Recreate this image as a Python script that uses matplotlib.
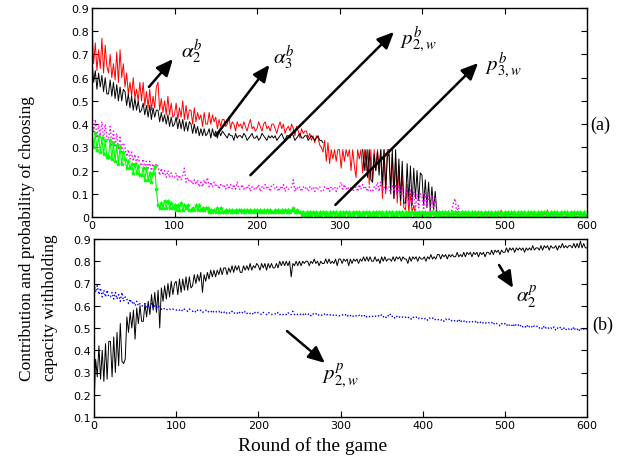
import numpy as np
import matplotlib
matplotlib.use("Agg")
import matplotlib.pyplot as plt

plt.rcParams['mathtext.fontset'] = 'stix'
nan = np.nan

rounds = list(range(0, 601, 2))

alpha2_b = [0.83,0.66,0.75,0.63,0.72,0.64,0.77,0.62,0.74,0.65,
            0.62,0.70,0.60,0.66,0.59,0.71,0.58,0.72,0.60,0.66,
            0.56,0.62,0.53,0.58,0.52,0.60,0.51,0.55,0.50,0.58,
            0.50,0.58,0.48,0.54,0.47,0.55,0.46,0.52,0.47,0.56,
            0.58,0.46,0.51,0.45,0.50,0.44,0.52,0.44,0.49,0.43,
            0.44,0.49,0.42,0.47,0.43,0.50,0.42,0.48,0.42,0.46,
            0.46,0.40,0.47,0.41,0.45,0.42,0.44,0.39,0.45,0.40,
            0.40,0.45,0.40,0.44,0.41,0.43,0.38,0.42,0.39,0.42,
            0.42,0.39,0.40,0.43,0.38,0.41,0.40,0.37,0.41,0.39,
            0.40,0.38,0.41,0.39,0.37,0.40,0.42,0.38,0.39,0.37,
            0.38,0.41,0.39,0.37,0.40,0.41,0.38,0.39,0.37,0.40,
            0.40,0.38,0.36,0.39,0.41,0.38,0.40,0.36,0.38,0.39,
            0.37,0.40,0.38,0.35,0.39,0.37,0.34,0.38,0.36,0.37,
            0.37,0.34,0.36,0.33,0.35,0.32,0.35,0.34,0.31,0.30,
            0.28,0.33,0.24,0.32,0.23,0.29,0.25,0.29,0.24,0.29,
            0.29,0.21,0.29,0.24,0.29,0.26,0.29,0.20,0.29,0.22,
            0.17,0.29,0.25,0.29,0.19,0.29,0.20,0.29,0.14,0.29,
            0.15,0.29,0.20,0.29,0.22,0.29,0.08,0.29,0.10,0.29,
            0.29,0.12,0.27,0.08,0.25,0.06,0.22,0.05,0.18,0.04,
            0.03,0.14,0.02,0.10,0.02,0.05,0.01,0.02,0.01,0.01,
            0.01,0.01,0.01,0.02,0.01,0.01,0.01,0.01,0.01,0.01,
            0.01,0.01,0.02,0.01,0.01,0.01,0.01,0.01,0.01,0.01,
            0.01,0.01,0.01,0.01,0.01,0.02,0.01,0.01,0.01,0.01,
            0.01,0.01,0.01,0.01,0.01,0.01,0.01,0.01,0.02,0.01,
            0.01,0.01,0.01,0.01,0.01,0.01,0.01,0.01,0.03,0.01,
            0.01,0.01,0.01,0.01,0.01,0.01,0.01,0.01,0.01,0.01,
            0.01,0.01,0.02,0.01,0.01,0.01,0.01,0.01,0.01,0.01,
            0.01,0.01,0.01,0.01,0.01,0.01,0.03,0.01,0.01,0.01,
            0.01,0.01,0.01,0.01,0.01,0.01,0.02,0.01,0.01,0.01,
            0.01,0.01,0.01,0.01,0.01,0.01,0.02,0.01,0.01,0.01,
            0.01]

alpha3_b = [0.68,0.58,0.63,0.55,0.62,0.56,0.61,0.54,0.60,0.53,
            0.53,0.59,0.52,0.58,0.51,0.57,0.50,0.56,0.50,0.55,
            0.54,0.48,0.53,0.47,0.52,0.46,0.51,0.46,0.50,0.45,
            0.46,0.49,0.44,0.48,0.43,0.48,0.42,0.47,0.43,0.46,
            0.46,0.41,0.45,0.41,0.44,0.40,0.44,0.39,0.43,0.39,
            0.40,0.43,0.38,0.42,0.38,0.42,0.37,0.41,0.37,0.41,
            0.40,0.36,0.40,0.36,0.39,0.35,0.38,0.35,0.38,0.35,
            0.36,0.38,0.34,0.38,0.35,0.37,0.34,0.37,0.35,0.37,
            0.36,0.35,0.34,0.36,0.35,0.35,0.33,0.36,0.34,0.35,
            0.35,0.34,0.36,0.35,0.33,0.34,0.35,0.36,0.34,0.34,
            0.35,0.33,0.34,0.36,0.35,0.34,0.33,0.35,0.34,0.35,
            0.34,0.35,0.33,0.34,0.35,0.36,0.34,0.33,0.35,0.35,
            0.34,0.36,0.35,0.33,0.34,0.35,0.36,0.34,0.34,0.35,
            0.35,0.33,0.34,0.35,0.34,0.33,0.34,0.35,0.33,0.33,
            0.32,nan,nan,nan,nan,nan,nan,nan,nan,nan,
            nan,nan,nan,nan,nan,nan,nan,nan,nan,nan,
            nan,nan,nan,nan,0.29,0.20,0.29,0.17,0.29,0.16,
            0.15,0.27,0.20,0.28,0.18,0.29,0.14,0.29,0.12,0.26,
            0.27,0.10,0.29,0.08,0.29,0.10,0.25,0.07,0.24,0.06,
            0.06,0.23,0.07,0.22,0.05,0.21,0.08,0.20,0.07,0.19,
            0.18,0.05,0.16,0.04,0.15,0.03,0.13,0.03,0.11,0.02,
            0.02,0,0,0,0,0,0,0,0,0,
            0,0,0,0,0,0,0,0,0,0,
            0,0,0,0,0,0,0,0,0,0,
            0,0,0,0,0,0,0,0,0,0,
            0,0,0,0,0,0,0,0,0,0,
            0,0,0,0,0,0,0,0,0,0,
            0,0,0,0,0,0,0,0,0,0,
            0,0,0,0,0,0,0,0,0,0,
            0,0,0,0,0,0,0,0,0,0,
            0]

p2w_b = [0.45,0.36,0.42,0.34,0.40,0.35,0.41,0.33,0.40,0.34,
         0.33,0.39,0.31,0.37,0.30,0.36,0.29,0.35,0.28,0.32,
         0.30,0.26,0.29,0.25,0.28,0.24,0.27,0.23,0.26,0.23,
         0.22,0.25,0.21,0.24,0.21,0.24,0.20,0.23,0.20,0.23,
         0.22,0.18,0.21,0.18,0.20,0.17,0.20,0.17,0.19,0.17,
         0.17,0.19,0.16,0.18,0.16,0.18,0.21,0.15,0.17,0.15,
         0.16,0.14,0.16,0.14,0.16,0.13,0.15,0.13,0.16,0.14,
         0.17,0.13,0.15,0.13,0.15,0.13,0.14,0.12,0.14,0.13,
         0.14,0.12,0.14,0.12,0.14,0.12,0.14,0.12,0.15,0.12,
         0.12,0.14,0.12,0.13,0.12,0.14,0.11,0.13,0.12,0.13,
         0.12,0.14,0.11,0.13,0.12,0.14,0.12,0.13,0.11,0.14,
         0.14,0.12,0.13,0.11,0.13,0.12,0.14,0.11,0.13,0.12,
         0.12,0.13,0.16,0.11,0.13,0.12,0.13,0.11,0.13,0.12,
         0.13,0.11,0.13,0.12,0.13,0.11,0.13,0.12,0.13,0.11,
         0.11,0.13,0.12,0.13,0.11,0.13,0.12,0.13,0.11,0.13,
         0.13,0.15,0.12,0.14,0.12,0.13,0.11,0.13,0.11,0.12,
         0.13,0.11,0.14,0.12,0.14,0.12,0.13,0.11,0.13,0.11,
         0.11,0.13,0.12,0.15,0.11,0.15,0.11,0.13,0.11,0.13,
         0.13,0.10,0.14,0.11,0.14,0.09,0.13,0.10,0.13,0.08,
         0.09,0.12,0.05,0.12,0.06,0.11,0.03,0.10,0.04,0.10,
         0.09,0.03,0.11,0.05,0.10,0.02,0.09,0.03,0.08,0.02,
         0.02,0.01,0.01,0.01,0.01,0.01,0.01,0.01,0.03,0.06,
         0.08,0.02,0.05,0.01,0.02,0.01,0.01,0.01,0.01,0.01,
         0.01,0.01,0.01,0.01,0.01,0.01,0.01,0.01,0.01,0.01,
         0.01,0.01,0.01,0.01,0.01,0.01,0.01,0.01,0.01,0.01,
         0.01,0.01,0.01,0.01,0.01,0.01,0.01,0.01,0.01,0.01,
         0.01,0.01,0.01,0.01,0.01,0.01,0.01,0.01,0.01,0.01,
         0.01,0.01,0.01,0.01,0.01,0.01,0.01,0.01,0.01,0.01,
         0.01,0.01,0.01,0.01,0.01,0.01,0.01,0.01,0.01,0.01,
         0.01,0.01,0.01,0.01,0.01,0.01,0.01,0.01,0.01,0.01,
         0.01]

p3w_b = [0.38,0.30,0.36,0.29,0.35,0.28,0.34,0.27,0.33,0.26,
         0.26,0.33,0.25,0.32,0.24,0.31,0.23,0.30,0.23,0.28,
         0.25,0.21,0.24,0.21,0.23,0.19,0.23,0.19,0.22,0.18,
         0.18,0.21,0.16,0.21,0.16,0.19,0.15,0.19,0.22,0.12,
         0.05,0.04,0.06,0.04,0.07,0.04,0.07,0.04,0.06,0.04,
         0.05,0.03,0.05,0.03,0.06,0.03,0.05,0.04,0.05,0.03,
         0.03,0.04,0.03,0.05,0.03,0.05,0.03,0.04,0.03,0.04,
         0.04,0.02,0.03,0.02,0.03,0.02,0.04,0.02,0.04,0.02,
         0.02,0.03,0.02,0.03,0.02,0.03,0.02,0.03,0.02,0.03,
         0.03,0.02,0.03,0.02,0.03,0.02,0.03,0.02,0.03,0.02,
         0.03,0.02,0.03,0.02,0.03,0.02,0.03,0.02,0.03,0.02,
         0.02,0.03,0.02,0.03,0.02,0.03,0.02,0.03,0.02,0.03,
         0.02,0.03,0.04,0.02,0.03,0.02,0.02,0.01,0.02,0.01,
         0.02,0.01,0.02,0.01,0.02,0.01,0.02,0.01,0.02,0.01,
         0.02,0.01,0.02,0.01,0.02,0.01,0.02,0.01,0.02,0.01,
         0.02,0.01,0.02,0.01,0.02,0.01,0.02,0.01,0.02,0.01,
         0.02,0.01,0.02,0.01,0.02,0.01,0.02,0.01,0.02,0.01,
         0.02,0.01,0.02,0.01,0.02,0.01,0.02,0.01,0.02,0.01,
         0.02,0.01,0.02,0.01,0.02,0.01,0.02,0.01,0.02,0.01,
         0.02,0.01,0.02,0.01,0.02,0.01,0.02,0.01,0.02,0.01,
         0.02,0.01,0.02,0.01,0.02,0.01,0.02,0.01,0.02,0.01,
         0.02,0.01,0.02,0.01,0.02,0.01,0.02,0.01,0.02,0.01,
         0.02,0.01,0.02,0.01,0.02,0.01,0.02,0.01,0.02,0.01,
         0.02,0.01,0.02,0.01,0.02,0.01,0.02,0.01,0.02,0.01,
         0.02,0.01,0.02,0.01,0.02,0.01,0.02,0.01,0.02,0.01,
         0.02,0.01,0.02,0.01,0.02,0.01,0.02,0.01,0.02,0.01,
         0.02,0.01,0.02,0.01,0.02,0.01,0.02,0.01,0.02,0.01,
         0.02,0.01,0.02,0.01,0.02,0.01,0.02,0.01,0.02,0.01,
         0.02,0.01,0.02,0.01,0.02,0.01,0.02,0.01,0.02,0.01,
         0.02,0.01,0.02,0.01,0.02,0.01,0.02,0.01,0.02,0.01,
         0.01]

alpha2_p = [0.15,0.36,0.28,0.42,0.27,0.40,0.26,0.43,0.27,0.44,
            0.44,0.28,0.46,0.30,0.48,0.33,0.52,0.35,0.34,0.36,
            0.55,0.48,0.57,0.50,0.58,0.45,0.59,0.52,0.60,0.53,
            0.53,0.61,0.55,0.62,0.56,0.65,0.58,0.66,0.57,0.67,
            0.50,0.68,0.62,0.69,0.63,0.70,0.64,0.71,0.65,0.70,
            0.71,0.65,0.72,0.66,0.72,0.67,0.73,0.67,0.73,0.68,
            0.69,0.74,0.70,0.74,0.71,0.75,0.66,0.74,0.71,0.75,
            0.72,0.76,0.73,0.76,0.73,0.76,0.74,0.77,0.74,0.77,
            0.77,0.74,0.77,0.75,0.78,0.75,0.78,0.76,0.78,0.75,
            0.75,0.78,0.76,0.78,0.76,0.79,0.76,0.78,0.77,0.79,
            0.78,0.76,0.79,0.77,0.79,0.76,0.79,0.77,0.79,0.77,
            0.77,0.79,0.77,0.80,0.78,0.80,0.78,0.80,0.78,0.80,
            0.73,0.79,0.78,0.80,0.78,0.80,0.78,0.80,0.79,0.80,
            0.80,0.78,0.80,0.79,0.81,0.79,0.80,0.78,0.80,0.79,
            0.79,0.81,0.79,0.81,0.79,0.80,0.79,0.81,0.78,0.81,
            0.81,0.79,0.81,0.80,0.81,0.78,0.81,0.79,0.81,0.80,
            0.81,0.79,0.81,0.80,0.82,0.80,0.82,0.80,0.82,0.80,
            0.80,0.82,0.80,0.81,0.79,0.82,0.80,0.82,0.80,0.81,
            0.81,0.80,0.82,0.80,0.82,0.81,0.82,0.80,0.82,0.81,
            0.81,0.79,0.82,0.80,0.82,0.81,0.82,0.80,0.82,0.81,
            0.81,0.82,0.80,0.82,0.81,0.83,0.81,0.82,0.81,0.83,
            0.83,0.81,0.83,0.82,0.83,0.81,0.83,0.82,0.83,0.82,
            0.82,0.84,0.82,0.83,0.82,0.84,0.82,0.84,0.83,0.84,
            0.82,0.84,0.83,0.84,0.82,0.84,0.83,0.84,0.82,0.84,
            0.84,0.83,0.85,0.83,0.85,0.84,0.85,0.83,0.85,0.84,
            0.84,0.86,0.84,0.86,0.85,0.86,0.84,0.86,0.85,0.86,
            0.85,0.86,0.84,0.86,0.85,0.86,0.85,0.87,0.85,0.86,
            0.86,0.85,0.87,0.85,0.87,0.86,0.87,0.85,0.87,0.86,
            0.86,0.87,0.85,0.87,0.86,0.88,0.86,0.87,0.86,0.87,
            0.87,0.86,0.88,0.86,0.88,0.86,0.89,0.86,0.88,0.86,
            0.86]

p2w_p = [0.70,0.66,0.69,0.65,0.68,0.64,0.67,0.64,0.67,0.64,
         0.64,0.66,0.63,0.66,0.63,0.65,0.62,0.66,0.62,0.64,
         0.63,0.61,0.63,0.61,0.62,0.60,0.62,0.60,0.61,0.60,
         0.60,0.61,0.59,0.60,0.59,0.61,0.59,0.60,0.59,0.60,
         0.59,0.585,0.58,0.59,0.585,0.58,0.585,0.58,0.585,0.58,
         0.58,0.585,0.58,0.585,0.575,0.585,0.58,0.575,0.585,0.58,
         0.575,0.58,0.57,0.58,0.575,0.58,0.57,0.575,0.58,0.57,
         0.575,0.57,0.58,0.57,0.575,0.57,0.575,0.565,0.575,0.57,
         0.575,0.565,0.57,0.565,0.575,0.565,0.57,0.565,0.575,0.565,
         0.57,0.565,0.575,0.565,0.57,0.565,0.57,0.56,0.57,0.565,
         0.57,0.565,0.56,0.57,0.565,0.56,0.57,0.565,0.56,0.565,
         0.565,0.56,0.57,0.56,0.565,0.56,0.565,0.56,0.57,0.56,
         0.56,0.575,0.56,0.565,0.56,0.565,0.56,0.565,0.555,0.565,
         0.56,0.565,0.555,0.565,0.56,0.565,0.555,0.56,0.555,0.56,
         0.565,0.555,0.56,0.555,0.56,0.555,0.56,0.555,0.56,0.555,
         0.555,0.56,0.555,0.56,0.55,0.56,0.555,0.56,0.55,0.555,
         0.555,0.56,0.55,0.555,0.55,0.56,0.55,0.555,0.55,0.555,
         0.55,0.555,0.55,0.555,0.55,0.56,0.55,0.555,0.545,0.555,
         0.565,0.55,0.555,0.545,0.555,0.545,0.55,0.545,0.55,0.545,
         0.55,0.545,0.55,0.54,0.55,0.545,0.55,0.54,0.545,0.54,
         0.545,0.54,0.545,0.535,0.545,0.54,0.545,0.535,0.54,0.535,
         0.54,0.535,0.54,0.53,0.54,0.535,0.54,0.53,0.535,0.53,
         0.535,0.53,0.54,0.525,0.535,0.53,0.535,0.525,0.53,0.525,
         0.53,0.525,0.53,0.52,0.53,0.525,0.53,0.52,0.525,0.52,
         0.525,0.52,0.525,0.515,0.525,0.52,0.52,0.51,0.52,0.515,
         0.52,0.51,0.52,0.51,0.515,0.505,0.52,0.51,0.515,0.505,
         0.515,0.505,0.51,0.50,0.515,0.505,0.51,0.50,0.51,0.505,
         0.51,0.50,0.505,0.495,0.51,0.50,0.505,0.495,0.50,0.495,
         0.505,0.49,0.50,0.495,0.505,0.49,0.50,0.49,0.50,0.495,
         0.50,0.49,0.505,0.49,0.495,0.485,0.50,0.49,0.495,0.49,
         0.495]

xticks = [0, 100, 200, 300, 400, 500, 600]
yticks_top = [0, 0.1, 0.2, 0.3, 0.4, 0.5, 0.6, 0.7, 0.8, 0.9]
yticks_bot = [0.1, 0.2, 0.3, 0.4, 0.5, 0.6, 0.7, 0.8, 0.9]

W, H = 618, 464
fig = plt.figure(figsize=(W / 100, H / 100), dpi=100)

def ax_rect(l, t, r, b):
    return [l / W, 1 - b / H, (r - l) / W, (b - t) / H]

ax1 = fig.add_axes(ax_rect(92, 9, 587, 218))
ax2 = fig.add_axes(ax_rect(94, 240, 587, 418))

ax1.plot(rounds, alpha2_b, color='#ff0000', lw=0.7)
ax1.plot(rounds, alpha3_b, color='black', lw=0.7)
ax1.plot(rounds, p2w_b, color='#ff00ff', lw=1.0, ls=':')
ax1.plot(rounds, p3w_b, color='#00ff00', lw=0.8, marker='*', ms=3, mew=0.5)

ax2.plot(rounds, alpha2_p, color='black', lw=0.7)
ax2.plot(rounds, p2w_p, color='#0000ff', lw=1.0, ls=':')

tick_font = dict(family='DejaVu Sans', size=8)
for ax, yt, ylim in ((ax1, yticks_top, (0, 0.9)), (ax2, yticks_bot, (0.1, 0.9))):
    ax.set_xlim(0, 600)
    ax.set_ylim(*ylim)
    ax.set_xticks(xticks)
    ax.set_yticks(yt)
    ax.set_xticklabels([str(v) for v in xticks], fontdict=tick_font)
    ax.set_yticklabels([('%g' % v) for v in yt], fontdict=tick_font)
    ax.tick_params(direction='in', top=True, right=True, length=4, width=0.8, pad=2)
    for s in ax.spines.values():
        s.set_linewidth(1.0)

arrow = dict(arrowstyle='-|>,head_length=1.0,head_width=0.45', color='black', lw=1.8, shrinkA=0, shrinkB=0)

def note(ax, txt, tail, head, pos):
    ax.annotate('', xy=head, xytext=tail, arrowprops=arrow)
    ax.text(pos[0], pos[1], txt, fontsize=15, ha='center', va='center')

note(ax1, r'$\alpha_2^b$', (69, 0.56), (98, 0.68), (121, 0.715))
note(ax1, r'$\alpha_3^b$', (150, 0.35), (215, 0.655), (232, 0.69))
note(ax1, r'$p_{2,w}^b$', (192, 0.18), (366, 0.797), (396, 0.77))
note(ax1, r'$p_{3,w}^b$', (295, 0.052), (468, 0.663), (498, 0.66))
note(ax2, r'$\alpha_2^p$', (493, 0.783), (510, 0.68), (527, 0.645))
note(ax2, r'$p_{2,w}^p$', (235, 0.486), (281, 0.343), (300, 0.29))

serif = 'Liberation Serif'
fig.text(600 / W, 1 - 125 / H, '(a)', fontsize=13, family=serif, ha='center', va='center')
fig.text(603 / W, 1 - 325 / H, '(b)', fontsize=13, family=serif, ha='center', va='center')
fig.text(313 / W, 1 - 446 / H, 'Round of the game', fontsize=14, family=serif, ha='center', va='center')
fig.text(27 / W, 1 - 381 / H, 'Contribution and probability of choosing', fontsize=12.5,
         family=serif, rotation=90, ha='center', va='bottom')
fig.text(50 / W, 1 - 381 / H, 'capacity withholding', fontsize=12.5,
         family=serif, rotation=90, ha='center', va='bottom')

fig.savefig('out.png', dpi=100)
